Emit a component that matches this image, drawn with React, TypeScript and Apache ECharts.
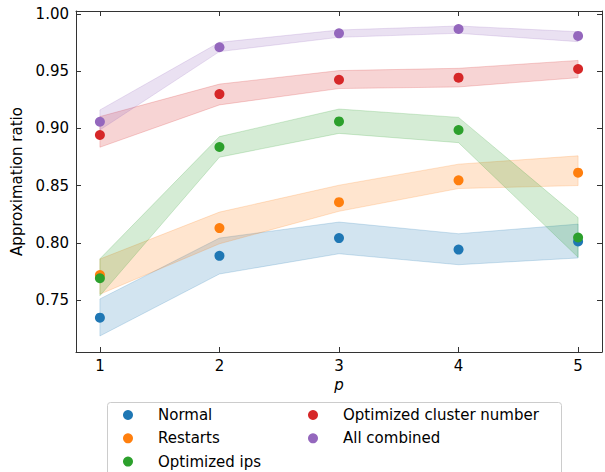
import React, { useEffect, useRef } from "react";
import * as echarts from "echarts";

// Circuit depth p on the x axis
const P = [1, 2, 3, 4, 5];

// Mean approximation ratio per strategy, with the lower/upper edges of the shaded spread
const normalMean = [0.7345, 0.7886, 0.8041, 0.794, 0.8011];
const normalLow = [0.7185, 0.7727, 0.7904, 0.7808, 0.7867];
const normalHigh = [0.7509, 0.8041, 0.8181, 0.8079, 0.8163];

const restartsMean = [0.7718, 0.8128, 0.8355, 0.8546, 0.8613];
const restartsLow = [0.755, 0.7991, 0.8275, 0.8474, 0.85];
const restartsHigh = [0.7858, 0.8268, 0.8503, 0.8687, 0.876];

const ipsMean = [0.769, 0.8837, 0.9061, 0.8986, 0.8046];
const ipsLow = [0.7537, 0.8748, 0.8956, 0.8875, 0.7873];
const ipsHigh = [0.786, 0.8928, 0.9169, 0.9096, 0.822];

const clusterMean = [0.8942, 0.93, 0.9425, 0.9443, 0.9519];
const clusterLow = [0.8835, 0.9205, 0.9348, 0.9362, 0.9443];
const clusterHigh = [0.9103, 0.9387, 0.9505, 0.9525, 0.9594];

const combinedMean = [0.9058, 0.9709, 0.9831, 0.9869, 0.9808];
const combinedLow = [0.8986, 0.9671, 0.9796, 0.9831, 0.9758];
const combinedHigh = [0.9161, 0.9752, 0.986, 0.9895, 0.9845];

const yTicks = [0.75, 0.8, 0.85, 0.9, 0.95, 1.0];
const xTicks = [1, 2, 3, 4, 5];

const names = ["Normal", "Restarts", "Optimized ips", "Optimized cluster number", "All combined"];
const colors = ["#1f77b4", "#ff7f0e", "#2ca02c", "#d62728", "#9467bd"];
const means = [normalMean, restartsMean, ipsMean, clusterMean, combinedMean];
const lows = [normalLow, restartsLow, ipsLow, clusterLow, combinedLow];
const highs = [normalHigh, restartsHigh, ipsHigh, clusterHigh, combinedHigh];

const FONT = "DejaVu Sans";
const FONT_SIZE = 15;
const AXIS_COLOR = "#333";

function bandSeries(idx: number) {
  const low = lows[idx];
  const high = highs[idx];
  const color = colors[idx];
  return {
    type: "custom",
    name: names[idx] + " band",
    xAxisIndex: 0,
    yAxisIndex: 0,
    z: 2,
    silent: true,
    data: P.map((p, i) => [p, low[i], high[i]]),
    encode: { x: 0, y: [1, 2] },
    renderItem: (params: any, api: any) => {
      if (params.dataIndex !== 0) return { type: "group", children: [] };
      const upper = P.map((p, i) => api.coord([p, high[i]]));
      const lower = P.map((p, i) => api.coord([p, low[i]])).reverse();
      return {
        type: "polygon",
        shape: { points: upper.concat(lower) },
        style: {
          fill: color,
          fillOpacity: 0.2,
          stroke: color,
          strokeOpacity: 0.2,
          lineWidth: 1,
        },
      };
    },
  };
}

function pointSeries(idx: number) {
  return {
    type: "scatter",
    name: names[idx],
    xAxisIndex: 0,
    yAxisIndex: 0,
    z: 5,
    symbol: "circle",
    symbolSize: 10,
    itemStyle: { color: colors[idx], opacity: 1 },
    data: P.map((p, i) => [p, means[idx][i]]),
  };
}

const legendCommon = {
  orient: "vertical",
  icon: "circle",
  itemWidth: 50,
  itemHeight: 10,
  itemGap: 8.3,
  padding: 0,
  z: 10,
  selectedMode: false,
  textStyle: { fontFamily: FONT, fontSize: FONT_SIZE, color: "#000", lineHeight: 15 },
};

export default function App() {
  const ref = useRef<HTMLDivElement>(null);

  useEffect(() => {
    if (!ref.current) return;
    const chart = echarts.init(ref.current, null, { renderer: "svg" });

    const xMin = 0.8;
    const xMax = 5.2;
    const yMin = 0.7045;
    const yMax = 1.0026;

    const hiddenLabels = { show: false };

    chart.setOption({
      animation: false,
      backgroundColor: "#fff",
      textStyle: { fontFamily: FONT },
      grid: { left: 76, top: 11, width: 526, height: 341, containLabel: false },
      xAxis: [
        {
          type: "value",
          position: "bottom",
          min: xMin,
          max: xMax,
          name: "p",
          nameLocation: "middle",
          nameGap: 25,
          nameTextStyle: { fontFamily: FONT, fontSize: FONT_SIZE, fontStyle: "italic", color: "#000" },
          axisLine: { show: true, onZero: false, lineStyle: { color: AXIS_COLOR, width: 1 } },
          axisTick: { show: true, inside: true, length: 5, customValues: xTicks, lineStyle: { color: AXIS_COLOR } },
          axisLabel: { show: true, customValues: xTicks, margin: 6, fontSize: FONT_SIZE, color: "#000", fontFamily: FONT },
          splitLine: { show: false },
        },
        {
          type: "value",
          position: "top",
          min: xMin,
          max: xMax,
          axisLine: { show: true, onZero: false, lineStyle: { color: AXIS_COLOR, width: 1 } },
          axisTick: { show: true, inside: true, length: 5, customValues: xTicks, lineStyle: { color: AXIS_COLOR } },
          axisLabel: hiddenLabels,
          splitLine: { show: false },
        },
      ],
      yAxis: [
        {
          type: "value",
          position: "left",
          min: yMin,
          max: yMax,
          name: "Approximation ratio",
          nameLocation: "middle",
          nameGap: 42,
          nameTextStyle: { fontFamily: FONT, fontSize: FONT_SIZE, color: "#000" },
          axisLine: { show: true, onZero: false, lineStyle: { color: AXIS_COLOR, width: 1 } },
          axisTick: { show: true, inside: true, length: 5, customValues: yTicks, lineStyle: { color: AXIS_COLOR } },
          axisLabel: {
            show: true,
            customValues: yTicks,
            margin: 7,
            fontSize: FONT_SIZE,
            color: "#000",
            fontFamily: FONT,
            formatter: (v: number) => v.toFixed(2),
          },
          splitLine: { show: false },
        },
        {
          type: "value",
          position: "right",
          min: yMin,
          max: yMax,
          axisLine: { show: true, onZero: false, lineStyle: { color: AXIS_COLOR, width: 1 } },
          axisTick: { show: true, inside: true, length: 5, customValues: yTicks, lineStyle: { color: AXIS_COLOR } },
          axisLabel: hiddenLabels,
          splitLine: { show: false },
        },
      ],
      legend: [
        { ...legendCommon, left: 123, top: 407.5, data: names.slice(0, 3) },
        { ...legendCommon, left: 308, top: 407.5, data: names.slice(3) },
      ],
      graphic: [
        {
          type: "rect",
          z: 1,
          silent: true,
          shape: { x: 107.5, y: 402.5, width: 454, height: 90, r: 3 },
          style: { fill: "#fff", stroke: "#cccccc", lineWidth: 1 },
        },
      ],
      series: [
        ...names.map((_, i) => bandSeries(i)),
        ...names.map((_, i) => pointSeries(i)),
      ],
    });

    return () => chart.dispose();
  }, []);

  return (
    <div
      ref={ref}
      style={{ position: "fixed", left: 0, top: 0, width: 605, height: 472 }}
    />
  );
}
